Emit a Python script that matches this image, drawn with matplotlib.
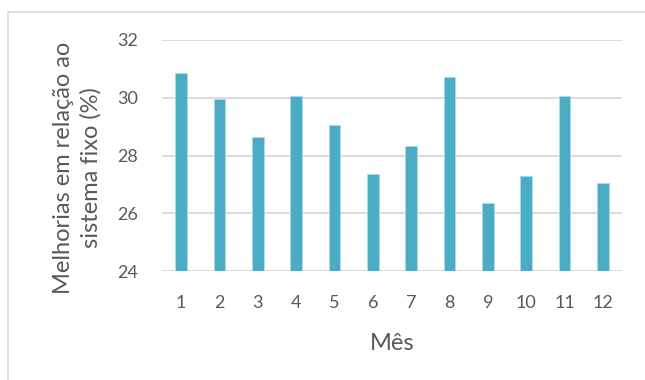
import matplotlib.pyplot as plt
from matplotlib.patches import Rectangle

meses = [str(m) for m in range(1, 13)]
melhorias = [30.85, 29.96, 28.63, 30.06, 29.06, 27.35,
             28.33, 30.72, 26.37, 27.29, 30.07, 27.06]
yticks = [24, 26, 28, 30, 32]

plt.rcParams['font.family'] = ['Lato', 'DejaVu Sans']
cor_texto = '#595959'

fig = plt.figure(figsize=(6.45, 3.8), dpi=100)
ax = fig.add_axes([162/645, 1 - 271/380, 460/645, 231/380])

# moldura da área do gráfico (cortada à direita e em baixo)
fig.patches.append(Rectangle((8/645, -0.1), 1.2, 1 - 12/380 + 0.1,
                             transform=fig.transFigure, fill=False,
                             edgecolor='#d9d9d9', linewidth=1.2))

x = range(len(meses))
ax.bar(x, melhorias, width=0.3, color='#4bacc6', edgecolor='#a9dbe8',
       linewidth=0.6, zorder=3)

ax.set_ylim(24, 32)
ax.set_xlim(-0.5, len(meses) - 0.5)
ax.set_yticks(yticks)
ax.set_xticks(list(x))
ax.set_xticklabels(meses)
ax.yaxis.grid(True, color='#d9d9d9', linewidth=1.3, zorder=0)
ax.tick_params(axis='both', length=0, labelsize=13, labelcolor=cor_texto)
ax.tick_params(axis='y', pad=17)
ax.tick_params(axis='x', pad=17)
for s in ax.spines.values():
    s.set_visible(False)

fig.text(392/645, 1 - 343/380, 'Mês', ha='center', va='center',
         fontsize=17, color=cor_texto)
fig.text(77/645, 1 - 168/380, 'Melhorias em relação ao\nsistema fixo (%)',
         ha='center', va='center', rotation=90, fontsize=17,
         color=cor_texto, linespacing=1.35)

fig.savefig('out.png', dpi=100)
